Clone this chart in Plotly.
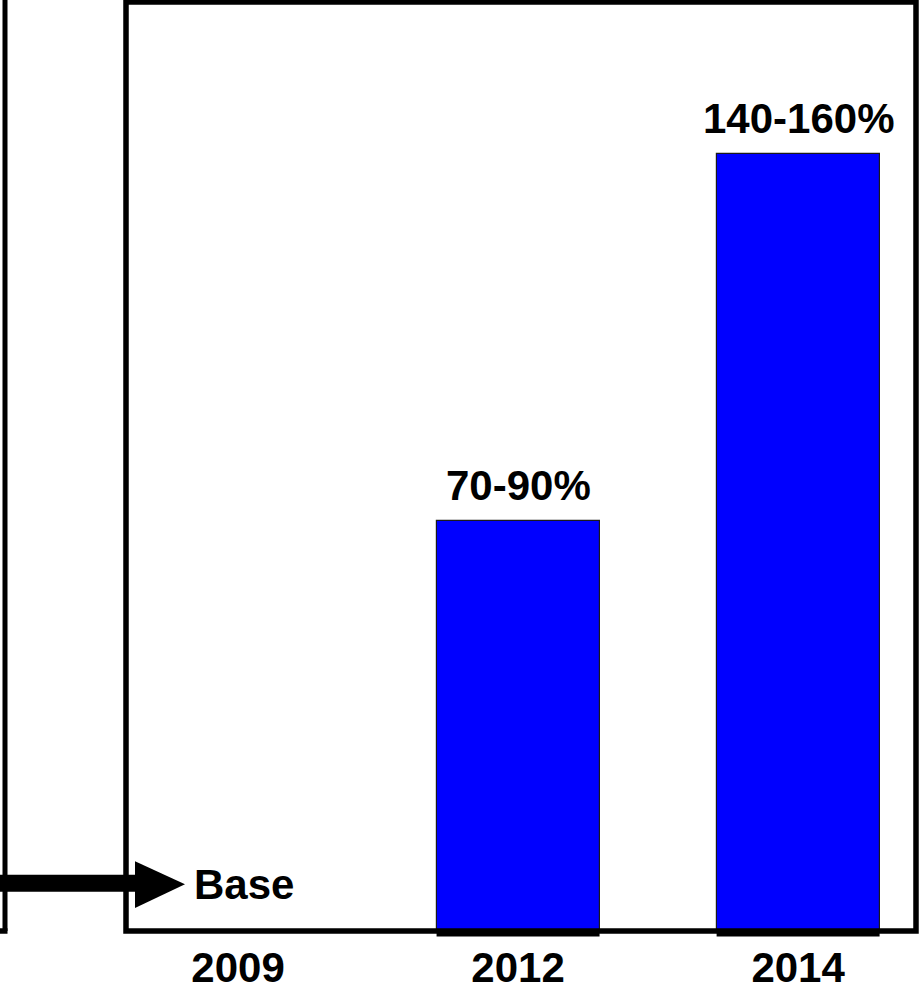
import plotly.graph_objects as go

# ---- data ----
categories = ["2009", "2012", "2014"]
positions = [0, 1, 2]
values = [0, 79.5, 150.5]
bar_labels = ["", "70-90%", "140-160%"]
base_label = "Base"

W, H = 920, 993
ML, MR, MT, MB = 126, 4, 2, 58
PW, PH = W - ML - MR, H - MT - MB


def px(x):
    return (x - ML) / PW


def py(y):
    return (H - MB - y) / PH


FONT = "Liberation Sans, Arial, sans-serif"
FS = 42
BAR_W = 0.582

fig = go.Figure()
fig.add_trace(go.Bar(
    x=positions, y=values, width=BAR_W,
    marker=dict(color="#0000FF", line=dict(color="#1a1a1a", width=1.2)),
    hoverinfo="skip", showlegend=False,
))

shapes = []
# bottom black edge of bars, slightly below the axis
for p, v in zip(positions, values):
    if v > 0:
        shapes.append(dict(type="rect", xref="x", yref="paper",
                           x0=p - BAR_W / 2, x1=p + BAR_W / 2,
                           y0=py(940.5), y1=0,
                           fillcolor="black", line=dict(width=0), layer="above"))

# frame of the panel
shapes.append(dict(type="rect", xref="paper", yref="paper", x0=0, x1=1, y0=0, y1=1,
                   line=dict(color="black", width=5.5), fillcolor="rgba(0,0,0,0)", layer="above"))
# neighbouring panel edge on the left
shapes.append(dict(type="line", xref="paper", yref="paper", x0=px(5), x1=px(5),
                   y0=0, y1=py(-10), line=dict(color="black", width=5)))
shapes.append(dict(type="line", xref="paper", yref="paper", x0=px(-5), x1=px(7.5),
                   y0=0, y1=0, line=dict(color="black", width=5.5)))
# arrow shaft and head
shapes.append(dict(type="line", xref="paper", yref="paper", x0=px(-5), x1=px(140),
                   y0=py(887), y1=py(887), line=dict(color="black", width=17)))
shapes.append(dict(type="path", xref="paper", yref="paper",
                   path="M {:.5f},{:.5f} L {:.5f},{:.5f} L {:.5f},{:.5f} Z".format(
                       px(135), py(865), px(135), py(912), px(185), py(888)),
                   fillcolor="black", line=dict(color="black", width=0)))

annotations = []
for p, v, t in zip(positions, values, bar_labels):
    if t:
        annotations.append(dict(x=p, y=v, xref="x", yref="y", text=t, showarrow=False,
                                yanchor="bottom", xanchor="center", yshift=10,
                                font=dict(family=FONT, size=FS, color="black", weight="bold")))
annotations.append(dict(x=px(192), y=py(888), xref="paper", yref="paper", text=base_label,
                        showarrow=False, xanchor="left", yanchor="middle",
                        font=dict(family=FONT, size=FS, color="black", weight="bold")))

fig.update_layout(
    width=W, height=H,
    margin=dict(l=ML, r=MR, t=MT, b=MB, pad=0),
    paper_bgcolor="white", plot_bgcolor="white",
    shapes=shapes, annotations=annotations,
    bargap=0,
    xaxis=dict(range=[-0.4, 2.421], tickvals=positions, ticktext=categories,
               showgrid=False, zeroline=False, showline=False, ticks="",
               ticklabelstandoff=8,
               tickfont=dict(family=FONT, size=FS, color="black", weight="bold")),
    yaxis=dict(range=[0, 180], showgrid=False, zeroline=False, showline=False,
               showticklabels=False, ticks=""),
)

fig.write_html("out.html")
